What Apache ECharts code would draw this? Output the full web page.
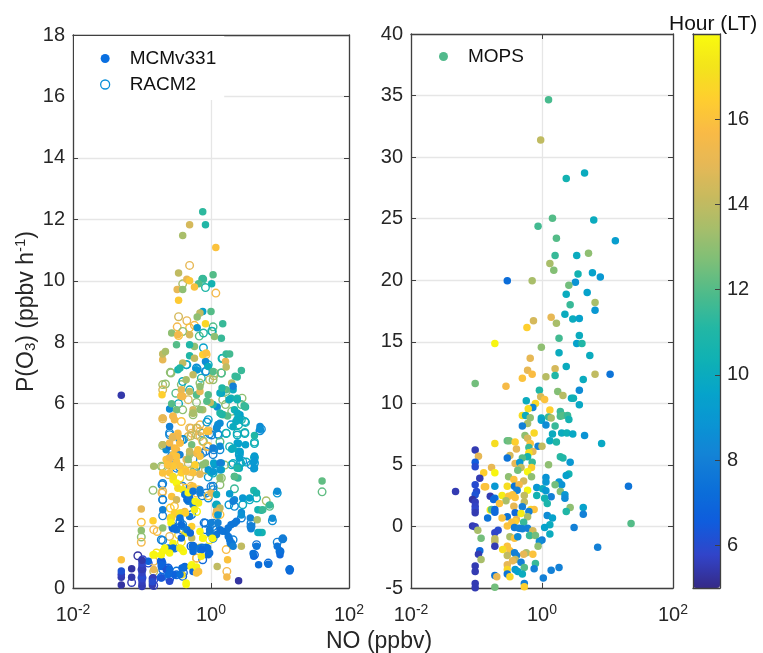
<!DOCTYPE html>
<html><head><meta charset="utf-8">
<script src="https://cdn.jsdelivr.net/npm/echarts@6/dist/echarts.min.js"></script>
<style>html,body{margin:0;padding:0;background:#fff}#c{width:763px;height:653px}</style>
</head><body><div id="c"></div>
<script>
// values are [log10(NO / ppbv), P(O3), hour of day]
const mcmPoints = [
[-0.12,12.25,11.3],[-0.08,11.82,11],[-0.31,11.82,14.5],[-0.41,11.47,13.5],[0.07,11.08,16],[-0.47,10.25,14],[0.03,10.2,12],[-0.35,10.05,15],[-0.31,10,16.2],[-0.12,10.07,11.5],[-0.18,9.9,12],[0.01,9.9,10.5],[-0.49,9.72,15],[-0.41,9.72,13],[-0.24,9.8,16],[-0.47,9.37,16.3],[-0.12,9,9.5],[0,9,12],[-0.16,8.95,14],[-0.2,8.82,13],[-0.08,8.6,16.8],[0.17,8.6,11.5],[-0.2,8.47,9],
[0.69,0.76,7.2],[0.83,0.77,7.3],[1.14,0.55,7],[1.14,0.6,7.2],[0.62,1.03,7],[0.61,1.12,7.3],[0.66,1.36,7.5],[1,1.08,7],[1,1.2,7.3],[0.96,1.36,7.5],[1.04,1.6,7.8],[0.58,1.93,8],[0.58,2,8],[0.57,2.28,8.2],[0.89,2.27,8.5],[0.71,1.81,10.2],[0.74,1.81,10.5],[0.68,1.81,10],[0.67,2.22,13.5],[0.68,2.55,10.5],[0.73,2.53,10.8],[0.75,2.55,11.5],[0.85,2.7,11.5],[0.96,3.15,8.5],[0.62,3.17,11],[0.66,3.09,10.5],[1.61,3.48,12.2],[0.44,2.46,8.5],[0.44,2.38,8.7],[0.56,2.93,9.5],[0.46,2.93,9],[0.34,2.87,8.5],[0.27,3.07,9.2],[0.32,2.82,8],
[0.37,2.17,7.6],[0.34,2.11,7.6],[0.29,2.06,7.6],[0.25,1.95,7.6],[0.22,1.84,7.6],[0.25,1.68,7.6],[0.27,1.57,7.6],[0.29,1.46,7.6],[0.44,1.36,14],[0.32,1.36,8],[0.09,0.7,14],[0.24,0.92,16],[0.23,0.36,15.5],[0.4,0.24,5.3],
[0.71,5.26,8.5],[0.71,5.17,8.7],[0.63,4.96,11],[0.63,4.3,9.2],[0.63,4.15,9],[0.62,3.88,8.7],[0.5,4.66,9.5],[0.4,4.7,9.5],[0.4,4.45,10],[0.3,4.52,10],[0.41,4.23,9.5],[0.38,3.96,10],[0.34,3.63,11],[0.39,3.58,11.5],[0.41,3.9,10],
[0.5,5.89,11],[0.48,5.93,11.5],[0.44,7.08,11.5],[0.42,5.64,9.5],[0.38,5.5,10],[0.34,5.8,10.5],[0.38,6.18,11],[0.29,6.18,10.5],[0.32,6.45,10],[0.22,6.45,12],[0.17,6.47,12.5],[0.3,6.67,14],[0.35,6.89,11.5],[0.38,6.87,11.5],[0.22,7.62,11.5],[0.27,7.62,11.7],[0.21,7.37,15],[0.22,7.19,14],[0.15,8.13,11.5],[0.05,8.19,13],
[0.15,5.66,11.5],[0.18,5.64,12],[0.24,5.6,12],[0.09,5.89,8.5],[0.15,6.34,9.5],[-0.04,6.29,12],[0.03,5.97,11],[-0.01,6.04,14],[-0.12,5.8,13.5],[-0.21,6.29,12],[0.1,5.32,9],[0.08,5.2,8.5],[-0.04,5.1,15.5],[-0.6,5.83,8.5],[-0.57,6,12],[-0.5,5.8,12.5],[-0.7,5.53,15],[-0.6,5.26,8],[-0.55,5.59,15],[-0.53,5.48,15.5],[-0.26,5.8,14.5],[-0.26,5.69,14],[-0.41,6.24,15.5],[-0.71,6.29,16.5],[-0.43,6.45,15],[-0.31,6.4,14],[-0.16,6.4,15],
[-0.7,7.43,15],[-0.7,7.62,14],[-0.66,7.7,13.5],[-0.5,7.92,12],[-0.57,8.3,13],[-0.48,8.24,15.5],[-0.31,8.24,14.5],[-0.24,7.86,13],[-0.31,7.92,11],[-0.31,7.56,11],[-0.24,7.48,14],[-0.41,7.32,14],[-0.48,7.1,10.5],[-0.45,7.16,11],[-0.21,7.1,9],[-0.08,7.37,8.5],[-0.04,7.21,10],[0.03,7.05,12],[-0.12,7.59,16.5],[-0.07,7.65,16],[-0.26,6.94,14],[-0.16,6.56,13],[-0.36,6.78,13.5],
[-0.48,5.04,15.8],[-0.55,4.93,15.5],[-0.45,4.72,16],[-0.5,4.5,15.5],[-0.55,4.34,16],[-0.45,4.34,8],[-0.62,4.18,15.5],[-0.5,4.12,16],[-0.36,4.18,15],[-0.21,4.39,15.5],[-0.31,4.34,13.5],[-0.28,4.66,12.5],[-0.19,4.5,16],[-0.12,4.01,13],[-0.38,3.85,16.5],[-0.7,3.74,16],[-0.83,3.96,13.5],[-0.65,4.5,8.5],[-0.6,4.61,7.5],[-0.7,4.66,14],
[0.03,4.56,8],[0.13,4.61,8.5],[0.05,4.01,9],[0.15,4.07,8.5],[0.15,3.85,10],[-0.04,3.85,9],[0,3.76,10],[0.13,3.58,13],
[-0.55,3.52,17.5],[-0.5,3.42,17.8],[-0.48,3.25,17],[-0.41,3.2,17.3],[-0.26,3.31,16],[-0.57,2.98,16],[-0.5,2.87,14.5],[-0.7,2.55,8],[-0.38,3.04,7.5],[-0.33,2.82,7.8],[-0.21,2.77,17.5],[-0.26,2.71,7.8],[-0.16,3.09,8],[0,3.09,15],[0.08,3.04,10],[0.08,2.71,10],[0.1,2.44,9],[0.13,2.6,14],
[-1.01,2.57,15],[-0.84,2.19,16.5],[-1.01,1.87,13],[-1.3,0.92,16],
[-0.7,1.95,13],[-0.55,1.95,7],[-0.5,1.9,7.5],[-0.41,2,8],[-0.36,1.79,17.5],[-0.43,1.63,7],[-0.28,2,16.5],[-0.31,2.33,7.8],[-0.48,2.39,16.5],[-0.43,2.44,16],[-0.38,2.49,15.5],[-0.24,2.55,17.6],[-0.16,1.84,17.8],[-0.12,1.63,17.6],[0.03,1.63,17.8],[-0.02,1.79,8],[0.08,1.74,7.6],[0.13,1.9,7.5],[-0.28,1.63,14],[-0.55,1.46,17.8],[-0.62,1.3,7.5],[-0.55,1.3,7.2],[-0.42,1.25,17.9],[-0.26,1.19,7.2],[-0.16,1.25,7.5],[-0.04,1.08,7],[-0.02,1.14,7.2],[-0.14,1.03,17.5],[-0.84,1.08,17.9],[-0.7,1.19,17.8],[-0.72,0.87,6.5],[-0.91,0.87,6.8],[-0.72,0.7,6.8],[-0.65,0.6,6.2],[-0.72,0.33,6.3],[-0.6,0.22,6],[-0.53,0.43,6.8],[-0.42,0.65,7],[-0.38,0.7,7],[-0.42,0.43,17],[-0.36,0.11,17.9],[-0.29,0.7,17.8],[-0.26,0.54,7],[-0.21,0.49,16],[-0.84,0.33,5.6],[-0.83,0.6,15],
[-1.3,6.27,5.4],[-1.3,0.1,5.3],[-1.3,0.35,5.5],[-1.3,0.45,5.6],[-1.3,0.55,6.2],[-1.15,0.63,5.3],[-1.15,0.35,5.4],[-1,0.05,5.5],[-1,0.1,5.5],[-1,0.2,5.6],[-1,0.3,5.8],[-1,0.4,6],[-1,0.5,5.7],[-1,0.6,5.5],[-1,0.7,5.6],[-1,0.8,5.8],[-1,0.9,5.4],[-0.85,0.3,5.6],[-0.85,0.1,5.5],[-0.85,0.2,6],
[-0.53,2.44,16.5],[-0.45,2.44,17],[-0.37,2.44,16.5],[-0.58,2.28,17],[-0.45,2.28,7.5],[-0.35,2.88,7.2],[-0.31,2.93,7.5],[-0.23,2.82,17.8],[-0.18,2.77,17.5],[-0.33,3.1,17.8],[-0.26,3.15,7.6],[-0.16,3.2,8],[-0.58,2.12,17.8],[-0.53,1.95,7.2],[-0.43,2.06,7.2],[-0.35,1.9,7.5],[-0.3,1.79,7],[-0.26,1.36,7.2],[-0.16,1.3,7.5],[-0.4,1.19,17.8],[-0.45,1.3,17.6],[-0.72,1.08,17.8],[-0.67,1.3,17.9],[-0.6,1.14,17.8],[-0.82,1.08,17.8],[-0.72,0.76,6.8],[-0.6,0.6,7],[-0.62,0.44,7],[-0.4,0.65,7.2],[-0.45,0.44,7.3],[-0.28,0.76,17.9],[-0.21,0.68,17.7],[-0.18,0.54,16],[-0.36,0.16,17.9],[-0.12,1.62,17.9],[0.02,1.62,17.8],[-0.02,1.9,7.8],[0,2.12,8],[0.1,2.12,8],[0.17,1.85,7.5],[-0.05,1.3,7.2],[-0.13,1.25,7],[0.08,2.5,15],[0.1,2.38,9],
[-0.65,4.18,16],[-0.6,4.23,15.5],[-0.5,4.29,16],[-0.45,3.96,16],[-0.55,3.96,16.2],[-0.63,4.01,16],[-0.53,4.56,15.8],[-0.48,4.94,15.5],[-0.45,4.72,15.8],[-0.6,4.72,15.5],[-0.56,4.89,15],[-0.55,5.59,15.5],[-0.43,6.24,15.5],[-0.26,5.7,13.5],[-0.16,5.81,13],[-0.31,4.45,14],[-0.16,4.29,16],[-0.23,4.01,16.5],[-0.08,4.07,13],[-0.33,4.18,13],[-0.43,3.75,16.5],[-0.6,3.75,16],[-0.55,3.63,17],[-0.36,3.8,16],[-0.26,3.75,16],[-0.16,3.7,15],[-0.06,5.1,16],[0.09,5.25,8.5],[0.13,5.36,8.5],[-0.06,6.08,12],[0.13,6.35,10],[0.16,6.51,11],[0.32,6.57,8],[0.26,6.13,10],[0.38,6.13,10.5],[0.38,5.7,10],[0.42,5.48,10],[0.49,5.91,11.5],[0.16,5.65,11],[0.13,5.7,11],[0.32,5.25,10],[0.36,5.42,10],[0.38,4.72,9.5],[0.42,4.44,9.5],[0.32,4.56,10],[0.04,4.07,9.5],[0.13,4.07,8],[0.03,3.78,9],[0.13,3.85,9],[0.34,3.63,12],[0.38,3.9,11],[0.63,3.9,9],[0.62,4.1,9]
];
const racmPoints = [
[-0.31,10.5,15],[-0.41,9.9,13.5],[-0.12,10.05,11.5],[-0.08,9.78,11],[0.07,9.6,15.5],[-0.47,8.83,14.5],[-0.35,8.7,15],[-0.49,8.5,15.5],[-0.31,8.47,16],[-0.24,8.55,15.5],[0.03,8.5,12],[-0.41,8.35,13],[0.02,8.35,11.5],
[-0.47,8.22,16],[-0.17,8.2,12],[0.01,8.36,10.5],[-0.11,8.3,11],[-0.11,7.82,9.5],[-0.07,7.6,16],[0.16,7.47,10.5],[-0.35,7.27,9],[-0.2,7.13,9.5],[-0.07,7.05,9],[-0.58,7,13],[0.15,7,12],[0.04,6.91,14],
[1.61,3.13,12.2],[0.8,2.84,13.5],[0.85,2.66,12],[0.96,3.09,9],[0.89,2.19,8.5],[1.04,1.6,8],[0.96,1.49,8],[1,1.19,7.5],[1.14,0.6,7.3],[0.83,0.81,7.2],[0.66,1.41,7.5],[0.63,1.08,7],[0.58,2,8],[0.58,2.11,8],[0.66,2.93,10.5],[0.56,2.87,10],[0.44,2.28,8],[0.46,2.71,10],[0.34,2.66,8.5],[0.26,2.71,9],[0.34,3.23,11.5],[0.46,4.12,9],[0.63,4.07,9],[0.58,4.01,8.5],[0.71,5.12,8.5],[0.63,4.7,10],[0.49,5.06,11],[0.5,5.39,10.5],[0.38,5.04,10.5],[0.4,5.31,10.5],[0.44,5.48,11],[0.29,5.31,9],[0.22,5.04,10],[0.41,4.41,9.5],[0.41,4.34,9],[0.3,4.01,10],[0.43,4.07,10],[0.1,5.01,8.5],[-0.02,5.01,8.5],[-0.13,5.04,8.7],[0.03,4.34,8],[-0.08,4.45,7.8],[-0.04,3.61,9],[0.03,3.74,10],[0.15,3.58,13],[0.13,3.36,13],[0.03,3.31,8],[0.03,3.2,8.5],[-0.07,3.09,8],[-0.04,2.93,8.5],[0.08,2.39,15.5],[0.13,2.39,16],[0.03,2.11,8],[-0.08,2.11,7.5],[-0.08,1.9,7.5],[0.03,2,8],[0.08,1.9,8],[0.22,1.25,15.8],[0.23,0.54,15.5],[0.29,1.46,8],[0.32,1.57,8],
[0.45,6.18,13],[0.44,5.97,12],[0.3,5.75,13],[0.21,5.97,13],[0.17,6.13,13],[0.22,6.4,12.5],[0.05,7,13.5],[0.03,6.78,13],[-0.02,6.78,14],[-0.04,7.27,10],[0.15,7,12],[0.17,7.48,10.5],[-0.14,6.83,11],[-0.16,6.67,13],[-0.08,7.05,8.5],[-0.21,7.16,8.5],[-0.36,7.27,10],[-0.59,7.02,13],[-0.7,6.62,13.5],[-0.66,6.64,13],[-0.7,6.45,14.5],[-0.51,6.34,12],[-0.43,6.62,13],[-0.41,6.72,10],[-0.31,6.45,10],[-0.43,6.24,15],[-0.33,6.13,14.5],[-0.21,6.04,13],[-0.47,6,10],[-0.41,5.8,13],[-0.7,5.51,15],[-0.43,5.42,16],[-0.26,5.64,13],[-0.04,5.48,9.5],[-0.04,5.12,15],[-0.6,4.99,8.5],[-0.31,5.21,15],[-0.21,5.21,15.5],[-0.16,5.31,15.5],[-0.28,5.04,15],[-0.33,4.93,15],[-0.21,4.99,14],[-0.16,4.93,15],[-0.42,4.83,9],[-0.12,4.77,15.5],[-0.04,4.61,16],[-0.7,4.64,13],[-0.16,4.34,8],[-0.12,4.39,8],[-0.62,4.18,15.5],[-0.7,3.94,14],[-0.6,4.01,7.8],[-0.46,3.94,8],[-0.62,3.69,15],[-0.71,3.36,8],[-0.84,3.18,13],[-0.71,3.09,15.5],[-0.7,2.87,8],[-0.7,2.35,8],[-1.01,2.14,16],[-1.01,1.66,13],[-1.01,1.49,15.5],[-0.83,1.9,15.5],[-0.78,1.84,15.8],[-0.59,2.6,16.5],[-0.31,3.09,8],[-0.21,3.09,16],[-0.29,3.31,15],[-0.31,3.63,14],[-0.31,3.8,15],[-0.24,3.85,15.5],[-0.12,3.85,13.5],[-0.21,3.96,8.5],[-0.45,3.58,17],[-0.41,3.31,8],[-0.28,2.39,7.8],[-0.21,2.49,17.8],[-0.53,2.66,16],[-0.55,2,7.5],[-0.41,2.06,8],[-0.72,1.57,8],[-0.6,1.68,15],[-0.43,1.9,7],[-0.33,1.84,17],[-0.53,1.3,7.5],[-0.29,1.36,7],[-0.16,1.3,17],[-0.07,1.3,7.5],[-0.79,1.14,17],[-1.06,1.05,5.3],[-0.99,0.92,5.8],[-0.91,0.81,6],[-0.71,0.81,7],[-0.7,0.6,7],[-0.62,0.65,6.5],[-0.5,0.43,7],[-0.41,0.38,7],[-0.24,0.6,17.5],[-0.21,0.98,15.8],[-0.12,0.92,7],[-0.83,0.87,15],[-1.15,0.18,5.5],[-1,0.33,6],[-0.83,0.08,5.6],[-0.83,0.27,5.7],[-0.83,0.54,14],[-1,0.6,5.8],
[-0.6,5.05,8],[-0.45,4.83,8],[-0.4,4.83,8.5],[-0.29,5.2,15],[-0.2,5.2,14],[-0.29,4.95,14],[-0.16,5.1,15],[-0.06,5.4,9],[0.01,4.98,8],[0.11,4.98,8.5],[-0.11,4.78,13],[-0.06,4.6,15.5],[0.13,4.76,12],[0.04,4.5,8],[0.13,4.5,8.5],[0.27,4.6,10.5],[-0.26,4.2,8],[-0.57,4.3,8],[-0.6,4,16],[-0.72,3.96,13],[-0.5,3.9,8],[-0.33,4.05,14],[-0.08,3.85,14],[-0.24,3.8,13],[0.2,4,13],[0.32,4.05,10],[0.51,4.1,10],[0.42,4.05,10],[0.49,5.42,10],[0.38,4.98,10],[0.49,5.03,10],[0.22,5.03,10.5],[0.63,4.75,10.5],[0.73,5.17,8.5],[0.63,4.25,10],
[-0.7,3.4,8],[-0.7,3.15,15],[-0.7,2.88,8],[-0.45,3.3,15],[-0.37,3.25,16],[-0.28,3.25,16],[-0.18,3.2,16],[-0.13,3,8],[-0.04,3,16],[0,3.3,8],[0.08,2.7,9],[0.09,2.44,15.5],[-0.58,2.28,16],[-0.45,2.17,7.8],[-0.55,1.95,7],[-0.47,1.73,16.8],[-0.35,1.85,7.5],[-0.43,1.5,17],[-0.7,1.55,8],[-0.26,1.36,7],[-0.13,1.3,7.5],[-0.1,2.12,7.5],[-0.02,1.57,17.5],[0.03,1.62,7.8],[-0.72,0.87,7],[-0.62,0.6,7],[-0.5,0.55,7.5],[-0.4,0.5,7],[-0.26,0.65,17],[-0.6,0.3,6.5],[-0.72,0.35,7],[-0.21,0.97,15.5]
];
const mopsPoints = [
[0.1,34.65,11.8],[-0.02,31.4,14],[0.37,28.27,10.5],[0.65,28.7,10],[0.16,25.03,12],[0.79,24.9,10],[-0.06,24.38,11.7],[0.22,23.4,12],[1.12,23.2,9.3],[0.2,22,11.5],[0.53,22,10],[0.71,22.2,13],[0.12,21.35,13.5],[0.18,20.8,12.8],[-0.53,19.95,7.2],[-0.15,19.95,13.5],[0.55,20.5,10.5],[0.77,20.6,9.5],[0.89,20.27,9],[0.51,19.84,8.8],[0.41,19.6,12.5],[0.37,18.86,10],[0.69,19,9.5],[0.81,18.2,13.5],[0.43,18,11.5],[0.81,17.57,9],[0.14,17,15],[0.35,17.24,10],[0.47,16.86,10],[0.57,16.9,9.5],[-0.13,16.7,14.5],[0.22,16.5,13.5],[-0.23,16.16,16.5],
[0.26,15.29,11.7],[0.57,15.5,10],[0.53,14.86,9.5],[0.61,14.86,11],[-0.72,14.86,17.8],[-0.01,14.56,13],[0.26,14.1,10],[0.73,13.88,10],[-0.18,13.67,15],[0.37,13,10],[-0.22,12.69,15],[0.2,12.8,14.5],[-0.15,12.37,15.8],[0.81,12.37,14],[1.04,12.37,7.5],[0.2,12.26,11],[0.06,12.15,13.8],[-0.3,12.04,16],[0.63,11.93,10],[-1.02,11.61,12.5],[-0.55,11.39,15.6],[0.57,11.07,8.5],[-0.04,11.07,11],[0.24,10.96,12.8],[0.32,10.64,13.8],[-0.02,10.53,14.5],[0.45,10.42,10],[0.48,10.42,10.3],[0.04,10.31,16],[-0.24,10.2,10],[-0.1,9.99,16.8],[0.57,9.88,9.8],[-0.14,9.66,8.3],[-0.21,9.55,17],[0.12,9.45,16.5],[0.28,9.34,11.5],[0.28,8.96,11.8],[0.32,9.01,12],[0.39,9.01,11.5],[0.41,8.69,10.5],[-0.3,9.01,17],[-0.25,9.01,10],[-0.18,8.82,13],[-0.01,8.8,10],[0.1,8.9,11.5],[0.14,8.8,13.5],[-0.01,8.63,9.5],[-0.22,8.36,13.5],[-0.3,8.15,8],[0.06,8.25,8.5],[0.2,8.15,11.5],[0.3,7.6,10],[0.38,7.6,10.3],[0.47,7.5,9.8],[0.16,7.5,10],[0.65,7.39,8.8],[-0.12,7.6,16.8],[-0.26,7.39,13],[-0.22,7.17,14.5],[0.12,6.96,10],[0.22,6.85,11],[0.91,6.74,9.8],[-0.72,6.74,17],[-0.53,6.96,12.2],[-0.5,6.96,12.5],[-0.41,6.85,16.5],[-0.18,6.74,16],[-0.06,6.52,8],[0,6.52,14],[-0.2,6.41,11.5],[-0.39,6.3,15],[-1.02,6.2,5.5],[-0.14,6.09,15],[-0.2,5.98,17],[-0.97,5.71,15],[-0.49,5.76,14.5],[-0.53,5.55,7.5],[-0.22,5.66,10.5],[-0.3,5.55,12],[0.28,5.66,11.2],[0.32,5.55,11],[0.43,5.22,9],[-1.02,5.22,6.5],[-0.15,5.22,11.5],[-0.41,5.11,15],[-0.34,5.2,9],[0.1,5.01,13],[-1.02,4.84,6],[-0.77,4.79,15],[-0.32,4.79,14],[-0.16,4.79,16.5],[-0.37,4.57,12.5],[-0.89,4.36,16.5],[-0.72,4.36,17.8],[-0.22,4.44,17.8],[0.41,4.25,10.5],[0.37,4.14,9.5],[-0.51,4.03,13],[-0.16,4.03,13],[0.06,3.98,8.8],[-0.95,3.92,5.5],[-0.43,3.82,16],[-0.28,3.7,14.5],[0.06,3.6,9],[0.26,3.6,9],[-1.02,3.38,6],[0.3,3.38,8.8],[0.2,3.38,12.5],[-0.72,3.27,9],[-0.53,3.27,17],[-0.86,3.22,16],[-0.88,3.22,16],[-0.42,3.27,7.5],[-0.35,3.38,15.5],[1.32,3.27,7.5],[-0.08,3.17,9],[0.01,3.06,10],[0.06,2.9,9],[0.28,2.84,12.8],[-1.32,2.84,5.5],[-1,2.84,6],[-0.38,2.95,8],[-0.22,2.95,17.8],[-1.02,2.57,6.2],[-0.79,2.46,5.5],[-0.61,2.52,17.5],[-0.45,2.57,16],[-0.51,2.46,16],[-0.27,2.52,14],[0.35,2.57,9],[-0.08,2.52,10.5],[0.14,2.41,8],[0.35,2.3,8.5],[-0.41,2.35,16],[-0.55,2.08,13.5],[-0.72,2.3,7.5],[-0.74,2.19,7],[0.04,2.3,10.5],[-1.06,2.19,5.3],[-1.02,1.98,5.6],[-0.27,1.98,14],[-1.02,1.65,5.7],[0.08,1.87,10.8],[-0.65,1.87,16],[-1.02,1.38,5.8],[-1.02,1.11,5.5],[-0.43,1.65,15],[-0.3,1.6,8],[0.43,1.54,13],[0.63,1.54,9.5],[-0.79,1.33,17.5],[-0.77,1.38,12],[-0.72,1.38,7],[-0.72,1.16,7],[-0.17,1.38,16.8],[-0.12,1.38,16],[0.37,1.22,11],[-0.2,1.22,8],[-0.41,1.11,7],[-0.32,1.06,17.5],[0.63,1,8],[0.08,0.89,8.5],[0.16,0.68,9.5],[-0.53,0.78,7.5],[-0.61,0.68,16],[-0.83,0.68,7.5],[-0.22,0.78,13.5],[-0.39,0.57,15],[-0.41,0.41,16.5],[-0.46,0.35,16],[-0.28,0.35,11.5],[0.12,0.14,10],[-0.53,0.03,16],[-1.06,0.03,5.5],[-1.02,-0.03,5.6],[1.36,0.24,12],[-0.42,-0.08,7.8],[-0.35,-0.14,8],[-0.3,-0.19,8],[-0.22,-0.14,8],[0.04,-0.08,9.5],[0.49,-0.08,8],[-0.98,-0.3,13.5],[-0.67,-0.3,6],[-0.72,-0.51,5.8],[-0.14,-0.35,14.5],[-0.18,-0.73,16.5],[0.12,-0.62,10],[-0.93,-0.95,12.5],[-0.72,-1,14],[-0.49,-0.84,13.5],[-0.42,-0.95,16],[-0.37,-0.84,8.5],[-0.19,-0.73,11.5],[-0.1,-0.73,12.5],[-0.72,-1.22,14],[0,-1.11,8],[-0.04,-1.22,8.5],[-0.06,-1.6,13],[-0.72,-1.6,5.5],[0.85,-1.7,8],[-0.53,-1.6,16],[-0.6,-1.87,17],[-0.49,-1.98,16],[-0.95,-1.98,7],[-0.97,-2.25,5.5],[-0.42,-2.14,8],[-0.24,-2.14,13.5],[-0.28,-2.25,15],[-0.14,-2.25,16],[-0.53,-2.35,14],[-0.39,-2.35,8],[-0.93,-2.68,13.5],[-0.41,-2.68,14],[-0.45,-2.79,15],[-0.32,-2.9,8],[-0.1,-3,11.5],[-0.53,-3.11,15],[-1.02,-3.22,5.5],[-0.27,-3.33,12],[0.26,-3.33,8],[-0.53,-3.49,16.8],[-0.41,-3.49,9],[-0.12,-3.44,8],[0.14,-3.55,8],[-1.02,-3.65,5.5],[-0.37,-3.65,9.5],[-0.53,-3.87,7.5],[-0.3,-3.87,10],[-0.72,-3.98,7.5],[-0.49,-4.09,16.8],[-0.69,-4.09,15],[0.02,-4.19,8],[-1.02,-4.63,5.5],[-0.27,-4.63,8],[-1.02,-4.98,5.5],[-0.72,-4.93,12.5],[-0.27,-4.9,16.5]
];
const hourTicks = [6,8,10,12,14,16];
const parula = ['#352a87','#3244c9','#0f5cdd','#0b6fd9','#1481d6','#0a94d4','#06a4ca','#0fb1b4','#23b7a4','#4dbb8b','#7cbf78','#a5be6b','#c8ba5e','#e6b856','#f9ba45','#fece2f','#f3e41b','#f9fb0e'];

const toPoint = r => [Math.pow(10, r[0]), r[1], r[2]];
const ink = '#404040', txt = '#262626', FONT = 'Liberation Sans';
const logLabel = v => '{b|10}{s|' + Math.round(Math.log10(v)) + '}';
const labelRich = {b:{fontSize:20,color:txt,fontFamily:FONT},s:{fontSize:14,color:txt,fontFamily:FONT,padding:[0,0,11,0]}};
const line = {show:true,onZero:false,lineStyle:{color:ink,width:1.3}};
const tick = {show:true,inside:true,length:5,lineStyle:{color:ink,width:1}};
const grid0 = {left:73,top:35,width:276,height:553,containLabel:false};
const grid1 = {left:411,top:34,width:262,height:554,containLabel:false};
const grid2 = {left:693,top:34,width:27,height:554,containLabel:false};
const gridLine = {show:true,lineStyle:{color:'#e6e6e6',width:1.3}};

function xLog(gi, main){
  return {type:'log',logBase:100,min:0.01,max:100,gridIndex:gi,position:main?'bottom':'top',axisLine:line,axisTick:tick,minorTick:{show:false},
    axisLabel:main?{show:true,formatter:logLabel,rich:labelRich,margin:15}:{show:false},
    splitLine:main?gridLine:{show:false}};
}
function yVal(gi, main, min, max, iv){
  return {type:'value',min,max,interval:iv,gridIndex:gi,position:main?'left':'right',axisLine:line,axisTick:tick,
    axisLabel:main?{show:true,fontSize:20,color:txt,fontFamily:FONT,margin:8,padding:[3,0,0,0]}:{show:false},
    splitLine:main?gridLine:{show:false}};
}
const yNameRich = {t:{fontSize:23,color:txt,fontFamily:FONT},sub:{fontSize:15,color:txt,fontFamily:FONT,padding:[9,0,0,0]},sup:{fontSize:15,color:txt,fontFamily:FONT,padding:[0,0,11,0]}};

const chart = echarts.init(document.getElementById('c'),null,{renderer:'canvas'});
chart.setOption({
  animation:false,
  backgroundColor:'#fff',
  textStyle:{fontFamily:FONT},
  title:[
    {text:'NO (ppbv)',left:326,top:630,padding:0,textStyle:{fontSize:23,fontWeight:'normal',color:txt,fontFamily:FONT}},
    {text:'Hour (LT)',left:669,top:14,padding:0,textStyle:{fontSize:21,fontWeight:'normal',color:'#111',fontFamily:FONT}}
  ],
  grid:[grid0,grid1,grid2],
  xAxis:[xLog(0,true),xLog(0,false),xLog(1,true),xLog(1,false),
    {type:'value',gridIndex:2,min:0,max:1,axisLine:line,axisTick:{show:false},axisLabel:{show:false},splitLine:{show:false},z:10},
    {type:'value',gridIndex:2,min:0,max:1,position:'top',axisLine:line,axisTick:{show:false},axisLabel:{show:false},splitLine:{show:false},z:10}],
  yAxis:[
    Object.assign(yVal(0,true,0,18,2),{name:'{t|P(O}{sub|3}{t|) (ppbv h}{sup|-1}{t|)}',nameLocation:'middle',nameGap:33,nameRotate:90,nameTextStyle:{rich:yNameRich}}),
    yVal(0,false,0,18,2),
    yVal(1,true,-5,40,5),
    yVal(1,false,-5,40,5),
    {type:'value',gridIndex:2,min:5,max:18,position:'right',axisLine:line,z:10,
      axisTick:{show:true,inside:true,length:5,lineStyle:{color:ink},customValues:hourTicks},
      axisLabel:{show:true,fontSize:20,color:txt,fontFamily:FONT,margin:7,padding:[3,0,0,0],customValues:hourTicks},splitLine:{show:false}},
    {type:'value',gridIndex:2,min:5,max:18,position:'left',axisLine:line,z:10,
      axisTick:{show:false},axisLabel:{show:false},splitLine:{show:false}}
  ],
  visualMap:{type:'continuous',show:true,seriesIndex:[0,1,2],dimension:2,min:5,max:18,left:693,top:34,itemWidth:27,itemHeight:554,padding:0,text:null,showLabel:false,calculable:false,hoverLink:false,inRange:{color:parula}},
  legend:[
    {left:74,top:36,orient:'vertical',padding:[13,8,6,26],itemGap:7,itemWidth:9,itemHeight:9,backgroundColor:'#fff',z:3,
     textStyle:{fontSize:19,color:'#111',fontFamily:FONT,padding:[0,0,0,15]},
     data:[{name:'MCMv331',icon:'circle',itemStyle:{color:'#0a6fe0',borderWidth:0,opacity:1}},
           {name:'RACM2',icon:'circle',itemStyle:{color:'#fff',borderColor:'#0a8fd8',borderWidth:1.3,opacity:1}}]},
    {left:439,top:47,orient:'vertical',padding:0,itemWidth:9,itemHeight:9,
     textStyle:{fontSize:19,color:'#111',fontFamily:FONT,padding:[0,0,0,15]},
     data:[{name:'MOPS',icon:'circle',itemStyle:{color:'#52ba8c',borderWidth:0,opacity:1}}]}
  ],
  series:[
    {name:'MCMv331',type:'scatter',xAxisIndex:0,yAxisIndex:0,symbol:'circle',symbolSize:7.5,itemStyle:{opacity:1},data:mcmPoints.map(toPoint)},
    {name:'RACM2',type:'custom',coordinateSystem:'cartesian2d',xAxisIndex:0,yAxisIndex:0,encode:{x:0,y:1},data:racmPoints.map(toPoint),
     renderItem:(p,api)=>{const c=api.coord([api.value(0),api.value(1)]);
       return {type:'circle',shape:{cx:c[0],cy:c[1],r:3.8},style:{fill:'none',stroke:api.visual('color'),lineWidth:1.4}};}},
    {name:'MOPS',type:'scatter',xAxisIndex:2,yAxisIndex:2,symbol:'circle',symbolSize:7.5,itemStyle:{opacity:1},data:mopsPoints.map(toPoint)}
  ]
});
</script></body></html>
